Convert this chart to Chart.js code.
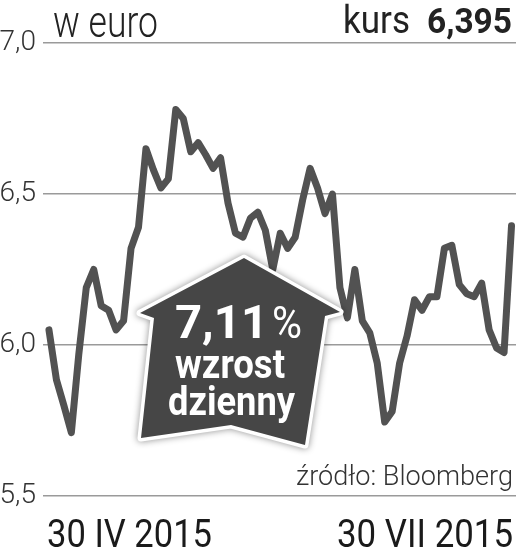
<!DOCTYPE html>
<html>
<head>
<meta charset="utf-8">
<script src="https://cdn.jsdelivr.net/npm/chart.js@4/dist/chart.umd.min.js"></script>
<style>
  html, body { margin: 0; padding: 0; background: #ffffff; }
  #wrap { width: 516px; height: 554px; position: relative; }
</style>
</head>
<body>
<div id="wrap"><canvas id="c" width="516" height="554"></canvas></div>
<script>
// ---- data ----
const prices = [6.05, 5.885, 5.80, 5.71, 5.97, 6.19, 6.25, 6.13, 6.115, 6.05,
  6.08, 6.32, 6.39, 6.65, 6.58, 6.52, 6.55, 6.78, 6.75, 6.64,
  6.67, 6.63, 6.585, 6.62, 6.47, 6.37, 6.357, 6.42, 6.44, 6.38,
  6.25, 6.37, 6.32, 6.357, 6.48, 6.585, 6.52, 6.435, 6.50, 6.19,
  6.09, 6.25, 6.08, 6.04, 5.94, 5.745, 5.78, 5.94, 6.03, 6.15,
  6.115, 6.16, 6.16, 6.32, 6.33, 6.20, 6.17, 6.16, 6.205, 6.05,
  5.99, 5.975, 6.395];
const yTicks = [5.5, 6.0, 6.5, 7.0];
const dateLabels = ['30 IV 2015', '30 VII 2015'];
const unitLabel = 'w euro';
const lastLabel = 'kurs';
const lastValue = '6,395';
const changeValue = '7,11';
const changeText = ['wzrost', 'dzienny'];
const sourceText = 'źródło: Bloomberg';

const points = prices.map((v, i) => ({ x: i, y: v }));

function fitText(ctx, text, font, x, y, targetW, color) {
  ctx.save();
  ctx.font = font;
  ctx.fillStyle = color;
  ctx.textAlign = 'left';
  ctx.textBaseline = 'alphabetic';
  const w = ctx.measureText(text).width;
  const s = targetW / w;
  ctx.translate(x, y);
  ctx.scale(s, 1);
  ctx.fillText(text, 0, 0);
  ctx.restore();
}

const decor = {
  id: 'decor',
  afterDatasetsDraw(chart) {
    const ctx = chart.ctx;
    // house-shaped badge
    const house = [[244, 258], [340, 312], [325, 316], [305, 445], [231, 425],
                   [141, 438], [154, 318], [140, 313]];
    ctx.save();
    ctx.beginPath();
    house.forEach((p, i) => i ? ctx.lineTo(p[0], p[1]) : ctx.moveTo(p[0], p[1]));
    ctx.closePath();
    ctx.lineJoin = 'round';
    ctx.shadowColor = 'rgba(0,0,0,0.45)';
    ctx.shadowBlur = 7;
    ctx.strokeStyle = '#ffffff';
    ctx.lineWidth = 7;
    ctx.stroke();
    ctx.shadowColor = 'transparent';
    ctx.shadowBlur = 0;
    ctx.fillStyle = '#464646';
    ctx.fill();
    ctx.restore();

    fitText(ctx, changeValue, 'bold 46px Roboto', 175, 338, 93, '#ffffff');
    fitText(ctx, '%', '400 44px Roboto', 272, 338, 30, '#ffffff');
    fitText(ctx, changeText[0], 'bold 40px Roboto', 175, 378, 110, '#ffffff');
    fitText(ctx, changeText[1], 'bold 40px Roboto', 168, 415, 127, '#ffffff');
  },
  afterDraw(chart) {
    const ctx = chart.ctx;
    fitText(ctx, unitLabel, '300 45px Roboto', 53, 37, 105, '#222222');
    fitText(ctx, lastLabel, '400 38px Roboto', 343, 33, 67, '#222222');
    fitText(ctx, lastValue, 'bold 35px Roboto', 427, 33, 85, '#222222');
    fitText(ctx, sourceText, '300 28px Roboto', 296, 485, 217, '#333333');
    fitText(ctx, dateLabels[0], '400 38px Roboto', 47, 547, 165, '#1a1a1a');
    fitText(ctx, dateLabels[1], '400 38px Roboto', 337, 547, 176, '#1a1a1a');
  }
};

new Chart(document.getElementById('c'), {
  type: 'line',
  data: {
    datasets: [{
      data: points,
      borderColor: '#525252',
      borderWidth: 7,
      borderJoinStyle: 'round',
      borderCapStyle: 'round',
      pointRadius: 0,
      tension: 0,
      fill: false
    }]
  },
  options: {
    responsive: false,
    animation: false,
    devicePixelRatio: 1,
    layout: { padding: { top: 43, bottom: 58, left: 0, right: 0 } },
    plugins: { legend: { display: false }, tooltip: { enabled: false }, title: { display: false } },
    scales: {
      x: {
        type: 'linear',
        display: false,
        min: -0.8,
        max: 62.6
      },
      y: {
        min: 5.5,
        max: 7.0,
        afterFit(scale) { scale.width = 43; },
        afterBuildTicks(scale) { scale.ticks = yTicks.map(v => ({ value: v })); },
        border: { display: false },
        grid: { color: '#9a9a9a', lineWidth: 1.5, drawTicks: false },
        ticks: {
          padding: 7,
          color: '#333333',
          font: { family: 'Roboto', size: 28, weight: '300' },
          callback: v => v.toFixed(1).replace('.', ',')
        }
      }
    }
  },
  plugins: [decor]
});
</script>
</body>
</html>
